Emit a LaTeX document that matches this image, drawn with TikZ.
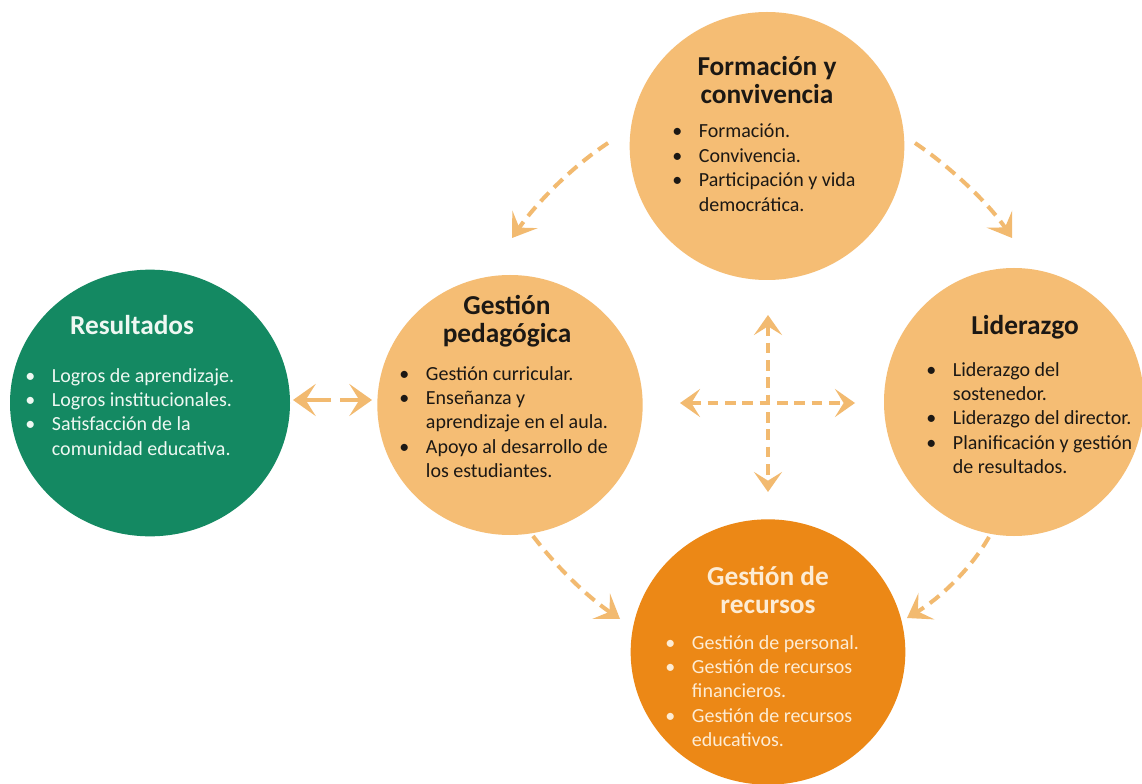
\documentclass[tikz,border=0pt]{standalone}
\usepackage{fontspec}
\setmainfont{Carlito}
\usetikzlibrary{arrows.meta,shapes.geometric}
\definecolor{lorange}{RGB}{245,189,116}
\definecolor{dorange}{RGB}{236,136,22}
\definecolor{dgreen}{RGB}{20,137,98}
\definecolor{arrowc}{RGB}{242,186,112}
\definecolor{lighttxt}{RGB}{238,248,242}
\definecolor{creamtxt}{RGB}{253,236,212}
\definecolor{darktxt}{RGB}{28,24,20}
\newcommand{\blist}[1]{\begin{tabular}[t]{@{}p{20pt}@{}l@{}}#1\end{tabular}}
\begin{document}
\begin{tikzpicture}[x=0.75pt,y=-0.75pt,
  blob/.style={ellipse, inner sep=0pt, draw=none},
  ttl/.style={align=center, inner sep=0pt, font=\bfseries\fontsize{20.5}{21}\selectfont},
  body/.style={anchor=base west, inner sep=0pt, font=\fontsize{15}{18.3}\selectfont},
  arr/.style={draw=arrowc, line width=3pt, dash pattern=on 9pt off 5.5pt,
    -{Stealth[length=17pt, width=23pt, inset=7.5pt]}},
  arrs/.style={draw=arrowc, line width=3pt,
    -{Stealth[length=17pt, width=24pt, inset=7.5pt]}},
  arrx/.style={draw=arrowc, line width=3pt, dash pattern=on 8pt off 5pt,
    {Stealth[length=15pt, width=21pt, inset=6.5pt]}-{Stealth[length=15pt, width=21pt, inset=6.5pt]}}]
\useasboundingbox (0,0) rectangle (1142,784);
\fill[white] (0,0) rectangle (1142,784);

% circles
\node[blob, fill=dgreen, minimum width=210pt, minimum height=200pt] (res) at (150,403) {};
\node[blob, fill=lorange, minimum width=199pt, minimum height=195pt] (ped) at (510,405) {};
\node[blob, fill=lorange, minimum width=206pt, minimum height=201pt] (for) at (767,146) {};
\node[blob, fill=lorange, minimum width=195pt, minimum height=201pt] (lid) at (1014,402) {};
\node[blob, fill=dorange, minimum width=206pt, minimum height=199pt] (rec) at (768,652) {};

% Resultados
\node[ttl, text=lighttxt] (rest) at (132,325) {Resultados};
\node[body, text=lighttxt] (resb) at (25,382) {\blist{%
\textbullet & Logros de aprendizaje.\\
\textbullet & Logros institucionales.\\
\textbullet & Satisfacción de la\\
 & comunidad educativa.}};

% Gestion pedagogica
\node[ttl, text=darktxt] (pedt) at (507,321) {Gestión\\pedagógica};
\node[body, text=darktxt] (pedb) at (399,380) {\blist{%
\textbullet & Gestión curricular.\\
\textbullet & Enseñanza y\\
 & aprendizaje en el aula.\\
\textbullet & Apoyo al desarrollo de\\
 & los estudiantes.}};

% Formacion y convivencia
\node[ttl, text=darktxt] (fort) at (767,80) {Formación y\\convivencia};
\node[body, text=darktxt] (forb) at (672,138) {\blist{%
\textbullet & Formación.\\
\textbullet & Convivencia.\\
\textbullet & Participación y vida\\
 & democrática.}};

% Liderazgo
\node[ttl, text=darktxt] (lidt) at (1025,327) {Liderazgo};
\node[body, text=darktxt] (lidb) at (926,376) {\blist{%
\textbullet & Liderazgo del\\
 & sostenedor.\\
\textbullet & Liderazgo del director.\\
\textbullet & Planificación y gestión\\
 & de resultados.}};

% Gestion de recursos
\node[ttl, text=creamtxt] (rect) at (768,590) {Gestión de\\recursos};
\node[body, text=creamtxt] (recb) at (665,649) {\blist{%
\textbullet & Gestión de personal.\\
\textbullet & Gestión de recursos\\
 & financieros.\\
\textbullet & Gestión de recursos\\
 & educativos.}};

% arrow end points
\coordinate (a1s) at (608,143); \coordinate (a1e) at (512,238);
\coordinate (a2s) at (915,143); \coordinate (a2e) at (1012,238);
\coordinate (a3s) at (533,536); \coordinate (a3e) at (620,619);
\coordinate (a4s) at (989,537); \coordinate (a4e) at (907,618);
\coordinate (lm1) at (331,400); \coordinate (lt1) at (293,400);
\coordinate (lm2) at (340,400); \coordinate (lt2) at (372,400);
\coordinate (hx1) at (680,403); \coordinate (hx2) at (855,403);
\coordinate (vy1) at (768,315); \coordinate (vy2) at (768,492);

\draw[arr] (a1s) .. controls (570,168) and (535,205) .. (a1e);
\draw[arr] (a2s) .. controls (952,168) and (990,205) .. (a2e);
\draw[arr] (a3s) .. controls (555,565) and (585,595) .. (a3e);
\draw[arr] (a4s) .. controls (970,570) and (940,598) .. (a4e);
\draw[arrs] (lm1) -- (lt1);
\draw[arrs] (lm2) -- (lt2);
\draw[arrx] (hx1) -- (hx2);
\draw[arrx] (vy1) -- (vy2);
\end{tikzpicture}
\end{document}
